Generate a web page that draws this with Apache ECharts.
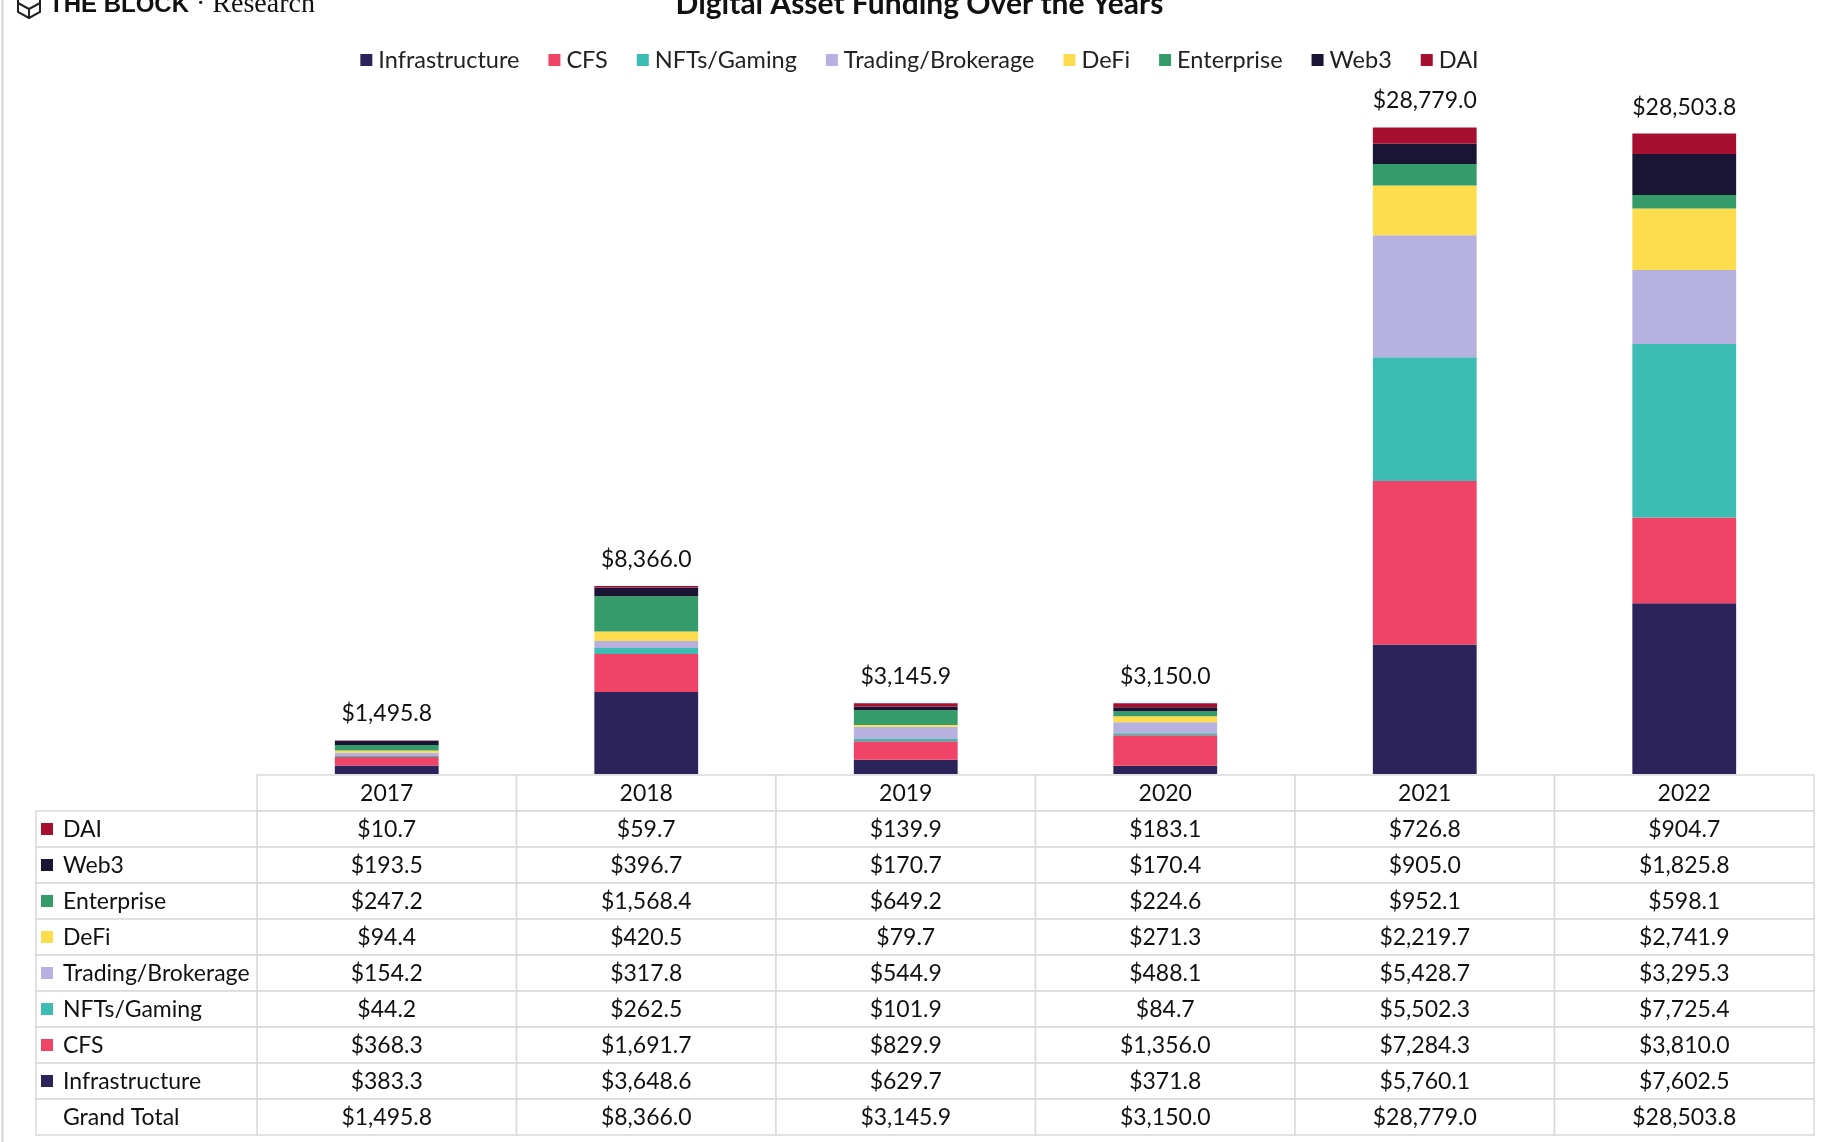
<!DOCTYPE html>
<html>
<head>
<meta charset="utf-8">
<script src="https://cdn.jsdelivr.net/npm/echarts@6/dist/echarts.min.js"></script>
<style>
  html, body { margin: 0; padding: 0; background: #ffffff; }
  #chart { width: 1839px; height: 1142px; }
</style>
</head>
<body>
<div id="chart"></div>
<script>
// ---- Data (USD millions) ----
const years = ['2017', '2018', '2019', '2020', '2021', '2022'];
const infrastructure = [383.3, 3648.6, 629.7, 371.8, 5760.1, 7602.5];
const cfs            = [368.3, 1691.7, 829.9, 1356.0, 7284.3, 3810.0];
const nftsGaming     = [44.2, 262.5, 101.9, 84.7, 5502.3, 7725.4];
const trading        = [154.2, 317.8, 544.9, 488.1, 5428.7, 3295.3];
const defi           = [94.4, 420.5, 79.7, 271.3, 2219.7, 2741.9];
const enterprise     = [247.2, 1568.4, 649.2, 224.6, 952.1, 598.1];
const web3           = [193.5, 396.7, 170.7, 170.4, 905.0, 1825.8];
const dai            = [10.7, 59.7, 139.9, 183.1, 726.8, 904.7];
const grandTotal     = [1495.8, 8366.0, 3145.9, 3150.0, 28779.0, 28503.8];

const seriesNames = ['Infrastructure', 'CFS', 'NFTs/Gaming', 'Trading/Brokerage', 'DeFi', 'Enterprise', 'Web3', 'DAI'];
const seriesValues = [infrastructure, cfs, nftsGaming, trading, defi, enterprise, web3, dai];
const colors = ['#2b2359', '#ef4466', '#3cbcb3', '#b7b1e0', '#fddc4e', '#359b69', '#1b1535', '#a60f30'];

// table rows (top to bottom)
const tableRows = ['', 'DAI', 'Web3', 'Enterprise', 'DeFi', 'Trading/Brokerage', 'NFTs/Gaming', 'CFS', 'Infrastructure', 'Grand Total'];

const FONT = 'Lato';
const fmt = v => '$' + v.toLocaleString('en-US', { minimumFractionDigits: 1, maximumFractionDigits: 1 });

function rowData(name) {
  if (name === 'Grand Total') return grandTotal;
  return seriesValues[seriesNames.indexOf(name)];
}
function rowColor(name) {
  const i = seriesNames.indexOf(name);
  return i >= 0 ? colors[i] : null;
}

const chart = echarts.init(document.getElementById('chart'));

const barSeries = seriesNames.map((name, i) => ({
  name: name,
  type: 'bar',
  stack: 'total',
  xAxisIndex: 0,
  yAxisIndex: 0,
  barWidth: '40%',
  itemStyle: { color: colors[i] },
  data: seriesValues[i],
  label: i === seriesNames.length - 1 ? {
    show: true,
    position: 'top',
    distance: 15,
    fontFamily: FONT,
    fontSize: 23,
    color: '#111',
    formatter: p => fmt(grandTotal[p.dataIndex])
  } : { show: false }
}));

const tableData = [];
for (let r = 0; r < tableRows.length; r++) {
  for (let c = 0; c < years.length; c++) tableData.push([c, r]);
}

const LABEL_W = 221;
const BORDER = '#d9d9d9';

const tableSeries = {
  type: 'custom',
  name: 'table',
  xAxisIndex: 1,
  yAxisIndex: 1,
  silent: true,
  data: tableData,
  renderItem: function (params, api) {
    const c = api.value(0), r = api.value(1);
    const ctr = api.coord([c, r]);
    const sz = api.size([1, 1]);
    const w = sz[0], h = sz[1];
    const x0 = ctr[0] - w / 2, y0 = ctr[1] - h / 2;
    const rowName = tableRows[r];
    const txt = r === 0 ? years[c] : fmt(rowData(rowName)[c]);
    const children = [
      { type: 'rect', shape: { x: x0, y: y0, width: w, height: h },
        style: { fill: '#fff', stroke: BORDER, lineWidth: 1.5 } },
      { type: 'text',
        style: { text: txt, x: ctr[0], y: ctr[1] + 1, fill: '#111',
          fontFamily: FONT, fontSize: 23,
          align: 'center', verticalAlign: 'middle',
          textAlign: 'center', textVerticalAlign: 'middle' } }
    ];
    if (c === 0 && r > 0) {
      const lx = x0 - LABEL_W;
      children.push({ type: 'rect', shape: { x: lx, y: y0, width: LABEL_W, height: h },
        style: { fill: '#fff', stroke: BORDER, lineWidth: 1.5 } });
      const col = rowColor(rowName);
      if (col) {
        children.push({ type: 'rect', shape: { x: lx + 5, y: ctr[1] - 6, width: 12, height: 12 },
          style: { fill: col } });
      }
      children.push({ type: 'text',
        style: { text: rowName, x: lx + 27, y: ctr[1] + 1, fill: '#111',
          fontFamily: FONT, fontSize: 23,
          align: 'left', verticalAlign: 'middle',
          textAlign: 'left', textVerticalAlign: 'middle' } });
    }
    return { type: 'group', children: children };
  }
};

const option = {
  animation: false,
  backgroundColor: '#ffffff',
  title: {
    text: 'Digital Asset Funding Over the Years',
    left: 'center',
    top: -16,
    textStyle: { fontFamily: FONT, fontWeight: 'bold', fontSize: 30, color: '#111' }
  },
  legend: {
    data: seriesNames,
    top: 43,
    left: 'center',
    icon: 'rect',
    itemWidth: 12,
    itemHeight: 12,
    itemGap: 29,
    textStyle: { fontFamily: FONT, fontSize: 23.5, color: '#222', padding: [0, 0, 0, 1] }
  },
  grid: [
    { left: 257, right: 25, top: 100, bottom: 368 },
    { left: 257, right: 25, top: 775, height: 360 }
  ],
  xAxis: [
    { type: 'category', data: years, gridIndex: 0, show: false },
    { type: 'category', data: years, gridIndex: 1, show: false }
  ],
  yAxis: [
    { type: 'value', gridIndex: 0, min: 0, max: 30000, show: false },
    { type: 'category', data: tableRows, gridIndex: 1, inverse: true, show: false }
  ],
  graphic: [
    { type: 'line', shape: { x1: 2.5, y1: 0, x2: 2.5, y2: 1142 },
      style: { stroke: '#d4d4d4', lineWidth: 2 } },
    { type: 'polygon', shape: { points: [[29, -7], [40, -1], [40, 12], [29, 18], [18, 12], [18, -1]] },
      style: { fill: 'none', stroke: '#222', lineWidth: 2 } },
    { type: 'polyline', shape: { points: [[18, 3], [29, 9], [40, 3]] },
      style: { fill: 'none', stroke: '#222', lineWidth: 2 } },
    { type: 'line', shape: { x1: 29, y1: 9, x2: 29, y2: 18 },
      style: { stroke: '#222', lineWidth: 2 } },
    { type: 'text', x: 49, y: 5,
      style: { text: 'THE BLOCK', fill: '#111', font: 'bold 24px "Liberation Sans"',
        verticalAlign: 'middle', textVerticalAlign: 'middle' } },
    { type: 'text', x: 196, y: 5,
      style: { text: '\u00b7 Research', fill: '#111', font: '28px "Liberation Serif"',
        verticalAlign: 'middle', textVerticalAlign: 'middle' } }
  ],
  series: barSeries.concat([tableSeries])
};

chart.setOption(option);
</script>
</body>
</html>
